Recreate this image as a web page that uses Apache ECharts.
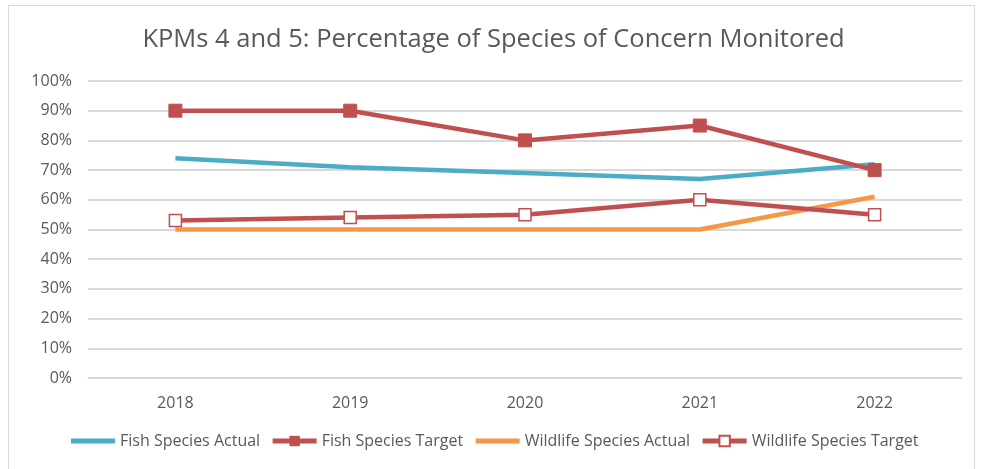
<!DOCTYPE html>
<html>
<head>
<meta charset="utf-8">
<script src="https://cdn.jsdelivr.net/npm/echarts@6/dist/echarts.min.js"></script>
<style>
  html, body { margin: 0; padding: 0; background: #fff; }
  #frame { position: absolute; left: 8px; top: 5px; width: 967px; height: 470px; border: 1px solid #d9d9d9; box-sizing: border-box; }
  #chart { position: absolute; left: 0; top: 0; width: 987px; height: 469px; }
</style>
</head>
<body>
<div id="frame"></div>
<div id="chart"></div>
<script>
var years = ['2018', '2019', '2020', '2021', '2022'];
var fishActual = [74, 71, 69, 67, 72];
var fishTarget = [90, 90, 80, 85, 70];
var wildlifeActual = [50, 50, 50, 50, 61];
var wildlifeTarget = [53, 54, 55, 60, 55];

var red = '#C0504D';
var font = 'Open Sans';

var myChart = echarts.init(document.getElementById('chart'), null, { renderer: 'canvas' });

var option = {
  animation: false,
  title: {
    text: 'KPMs 4 and 5: Percentage of Species of Concern Monitored',
    left: 'center',
    top: 22,
    textStyle: { fontFamily: font, fontSize: 25.5, fontWeight: 'normal', color: '#595959' }
  },
  legend: {
    bottom: 15,
    left: 'center',
    itemWidth: 44,
    itemHeight: 13,
    itemGap: 10,
    textStyle: { fontFamily: font, fontSize: 16, color: '#595959' },
    lineStyle: { width: 5 },
    data: [
      { name: 'Fish Species Actual', itemStyle: { opacity: 0 } },
      { name: 'Fish Species Target' },
      { name: 'Wildlife Species Actual', itemStyle: { opacity: 0 } },
      { name: 'Wildlife Species Target' }
    ]
  },
  grid: { left: 88, right: 25, top: 81, bottom: 91 },
  xAxis: {
    type: 'category',
    data: years,
    axisLine: { lineStyle: { color: '#d9d9d9', width: 1 } },
    axisTick: { show: false },
    axisLabel: { fontFamily: font, fontSize: 16, color: '#595959', margin: 17 }
  },
  yAxis: {
    type: 'value',
    min: 0,
    max: 100,
    interval: 10,
    axisLine: { show: false },
    axisTick: { show: false },
    splitLine: { lineStyle: { color: '#d9d9d9', width: 2 } },
    axisLabel: { fontFamily: font, fontSize: 16, color: '#595959', margin: 16, formatter: '{value}%' }
  },
  series: [
    {
      name: 'Fish Species Actual',
      type: 'line',
      data: fishActual,
      symbol: 'none',
      lineStyle: { color: '#4BACC6', width: 4.5 },
      itemStyle: { color: '#4BACC6' }
    },
    {
      name: 'Fish Species Target',
      type: 'line',
      data: fishTarget,
      symbol: 'rect',
      symbolSize: 13,
      lineStyle: { color: red, width: 4.5 },
      itemStyle: { color: red, borderColor: red }
    },
    {
      name: 'Wildlife Species Actual',
      type: 'line',
      data: wildlifeActual,
      symbol: 'none',
      lineStyle: { color: '#F79646', width: 4.5 },
      itemStyle: { color: '#F79646' }
    },
    {
      name: 'Wildlife Species Target',
      type: 'line',
      data: wildlifeTarget,
      symbol: 'rect',
      symbolSize: 12,
      showAllSymbol: true,
      lineStyle: { color: red, width: 4.5 },
      itemStyle: { color: '#fff', borderColor: red, borderWidth: 1.5 }
    }
  ]
};

myChart.setOption(option);
window.addEventListener('resize', myChart.resize);
</script>
</body>
</html>
